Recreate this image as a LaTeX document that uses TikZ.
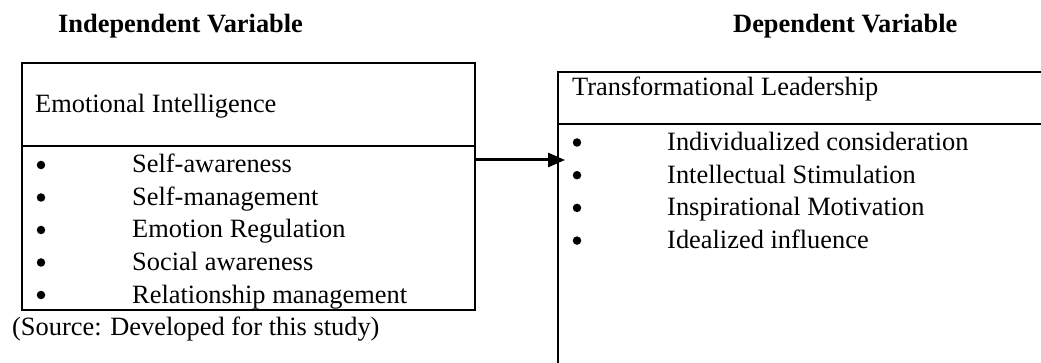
\documentclass[tikz,border=0pt]{standalone}
\usepackage{fontspec}
\setmainfont{Liberation Serif}
\usetikzlibrary{arrows.meta}
\begin{document}
\begin{tikzpicture}[x=1pt,y=-1pt,
  txt/.style={anchor=base west, inner sep=0pt, font=\fontsize{26.4}{30}\selectfont},
  head/.style={anchor=base west, inner sep=0pt, font=\fontsize{26.4}{30}\selectfont\bfseries},
  bul/.style={circle, fill=black, inner sep=0pt, minimum size=8.5pt},
  box/.style={draw, line width=2pt, anchor=north west, inner sep=0pt},
  divider/.style={line width=2pt},
  link/.style={line width=3pt, -{Triangle[length=17pt,width=14pt]}}]
\useasboundingbox (0,0) rectangle (1041,363);

% headings
\node[head] (hind) at (58,33) {Independent Variable};
\node[head] (hdep) at (733,33) {Dependent Variable};

% left box
\node[box, minimum width=453pt, minimum height=247pt] (eibox) at (21,62) {};
\draw[divider] (eibox.west |- 0,146) -- (eibox.east |- 0,146);
\node[txt] (eititle) at (35,113) {Emotional Intelligence};
\node[bul] (eb1) at (41,165) {};
\node[bul] (eb2) at (41,197.5) {};
\node[bul] (eb3) at (41,230) {};
\node[bul] (eb4) at (41,262.5) {};
\node[bul] (eb5) at (41,295) {};
\node[txt] (ei1) at (132,173) {Self-awareness};
\node[txt] (ei2) at (132,205.5) {Self-management};
\node[txt] (ei3) at (132,238) {Emotion Regulation};
\node[txt] (ei4) at (132,270.5) {Social awareness};
\node[txt] (ei5) at (132,303) {Relationship management};
\node[txt] (src) at (12,335) {(Source: Developed for this study)};

% right box
\node[box, minimum width=520pt, minimum height=320pt] (tlbox) at (557,71) {};
\draw[divider] (tlbox.west |- 0,124) -- (tlbox.east |- 0,124);
\node[txt] (tltitle) at (572,96) {Transformational Leadership};
\node[bul] (tb1) at (577,142.5) {};
\node[bul] (tb2) at (577,175.2) {};
\node[bul] (tb3) at (577,207.9) {};
\node[bul] (tb4) at (577,240.6) {};
\node[txt] (tl1) at (667,150.5) {Individualized consideration};
\node[txt] (tl2) at (667,183.2) {Intellectual Stimulation};
\node[txt] (tl3) at (667,215.9) {Inspirational Motivation};
\node[txt] (tl4) at (667,248.6) {Idealized influence};

% connector
\draw[link, shorten >=-8pt] (eibox.east |- 0,160) -- (tlbox.west |- 0,160);
\end{tikzpicture}
\end{document}
